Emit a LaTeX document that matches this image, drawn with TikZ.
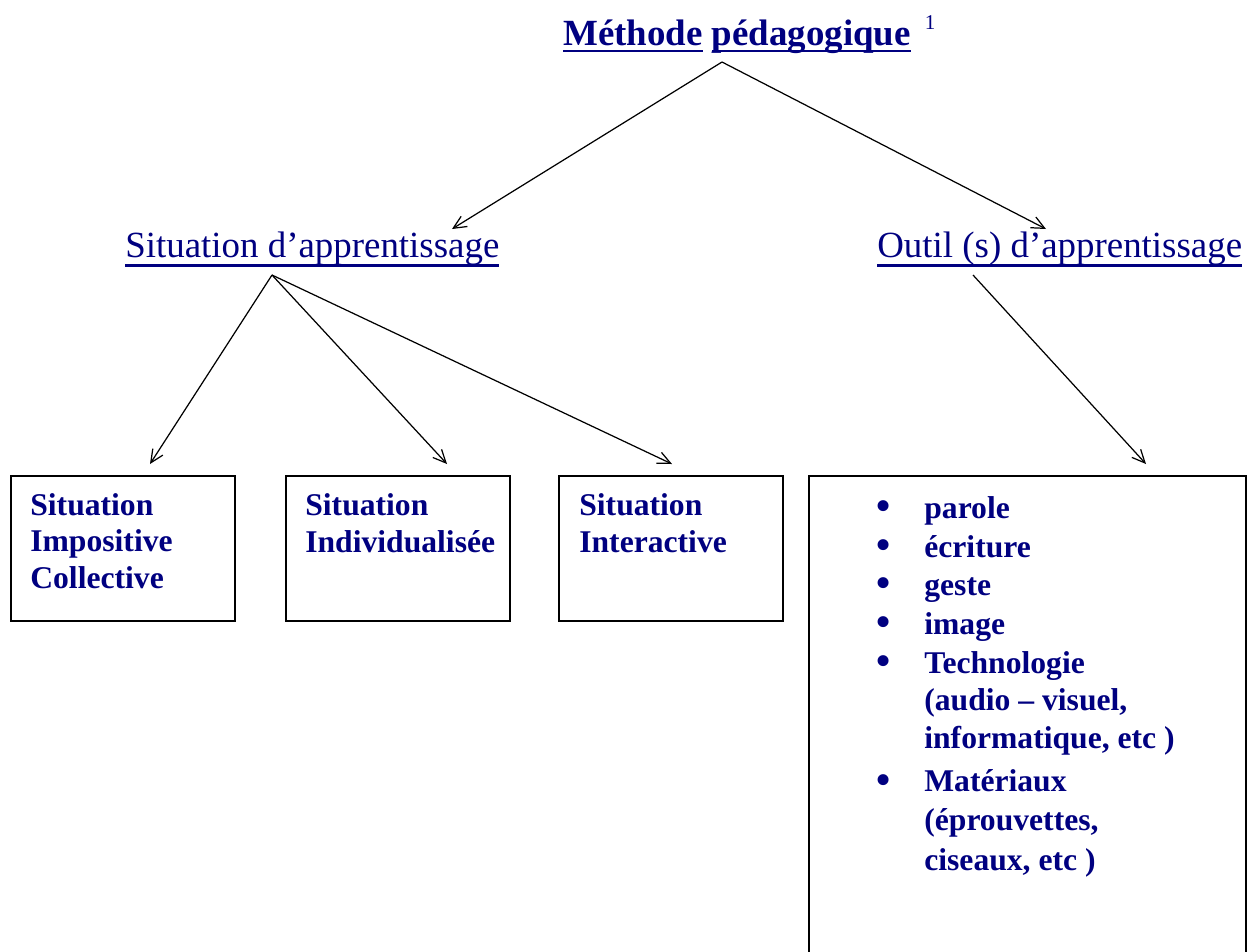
\documentclass[tikz,border=0pt]{standalone}
\usepackage{fontspec}
\setmainfont{Liberation Serif}
\usetikzlibrary{arrows.meta}

\definecolor{navytxt}{RGB}{0,0,128}
% underline drawn as a rule below the text
\newcommand{\ulw}[2][0.22em]{\setbox0\hbox{#2}\rlap{\rule[-#1]{\wd0}{1.3pt}}\box0\relax}

\tikzset{
  arr/.style={-{Straight Barb[length=2.6mm,width=2.4mm]}, line width=0.7pt},
  box/.style={draw, line width=1pt, anchor=north west, inner sep=0pt},
  head/.style={anchor=base west, inner sep=0pt, text=navytxt, font=\fontsize{21}{25}\selectfont},
  boxtxt/.style={anchor=base west, inner sep=0pt, text=navytxt, align=left, font=\bfseries\fontsize{18}{20.6}\selectfont},
  bul/.style={anchor=base west, inner sep=0pt, text=navytxt, font=\bfseries\fontsize{18}{21.3}\selectfont},
  dot/.style={anchor=base west, inner sep=0pt, text=navytxt, font=\bfseries\fontsize{23}{23}\selectfont},
}

\begin{document}
\begin{tikzpicture}[x=0.02cm, y=-0.02cm]
  \clip (0,0) rectangle (1248,951);
  \useasboundingbox (0,0) rectangle (1248,951);

  % headings
  \node[head, font=\bfseries\fontsize{21}{25}\selectfont] (methode) at (563,45)
    {\ulw[0.2em]{Méthode} \ulw[0.2em]{pédagogique}\hspace{8pt}\raisebox{0.42em}{\mdseries\fontsize{12}{12}\selectfont 1}};
  \node[head] (situation) at (125,257) {\ulw[0.26em]{Situation d’apprentissage}};
  \node[head] (outil) at (877,257) {\ulw[0.26em]{Outil (s) d’apprentissage}};

  % boxes
  \node[box, minimum width=4.48cm, minimum height=2.9cm] (impositive) at (10,475) {};
  \node[box, minimum width=4.48cm, minimum height=2.9cm] (individuelle) at (285,475) {};
  \node[box, minimum width=4.48cm, minimum height=2.9cm] (interactive) at (558,475) {};
  \node[box, minimum width=8.74cm, minimum height=10cm] (outils) at (808,475) {};

  % text of the boxes (anchored at the baseline of the last line)
  \node[boxtxt] (t1) at (30,588) {Situation\\Impositive\\Collective};
  \node[boxtxt] (t2) at (305,552) {Situation\\Individualisée};
  \node[boxtxt] (t3) at (579,552) {Situation\\Interactive};

  % list of tools
  \node[dot] (b1) at (876,519) {•};
  \node[dot] (b2) at (876,558) {•};
  \node[dot] (b3) at (876,596) {•};
  \node[dot] (b4) at (876,635) {•};
  \node[dot] (b5) at (876,674) {•};
  \node[dot] (b6) at (876,793) {•};
  \node[bul] (parole) at (924,518) {parole};
  \node[bul] (ecriture) at (924,557) {écriture};
  \node[bul] (geste) at (924,595) {geste};
  \node[bul] (image) at (924,634) {image};
  \node[bul, align=left] (techno) at (924,748) {Technologie\\(audio – visuel,\\informatique, etc )};
  \node[bul, align=left, font=\bfseries\fontsize{18}{22.3}\selectfont] (materiaux) at (924,870) {Matériaux\\(éprouvettes,\\ciseaux, etc )};

  % connectors
  \coordinate (mtop) at (722,62);
  \coordinate (sl) at (452,229);
  \coordinate (or) at (1046,229);
  \coordinate (stop) at (272,275);
  \coordinate (otop) at (973,275);
  \coordinate (a1) at (150,464);
  \coordinate (a2) at (447,464);
  \coordinate (a3) at (672,464);
  \coordinate (a4) at (1146,464);
  \draw[arr] (mtop) -- (sl);
  \draw[arr] (mtop) -- (or);
  \draw[arr] (stop) -- (a1);
  \draw[arr] (stop) -- (a2);
  \draw[arr] (stop) -- (a3);
  \draw[arr] (otop) -- (a4);
\end{tikzpicture}
\end{document}
